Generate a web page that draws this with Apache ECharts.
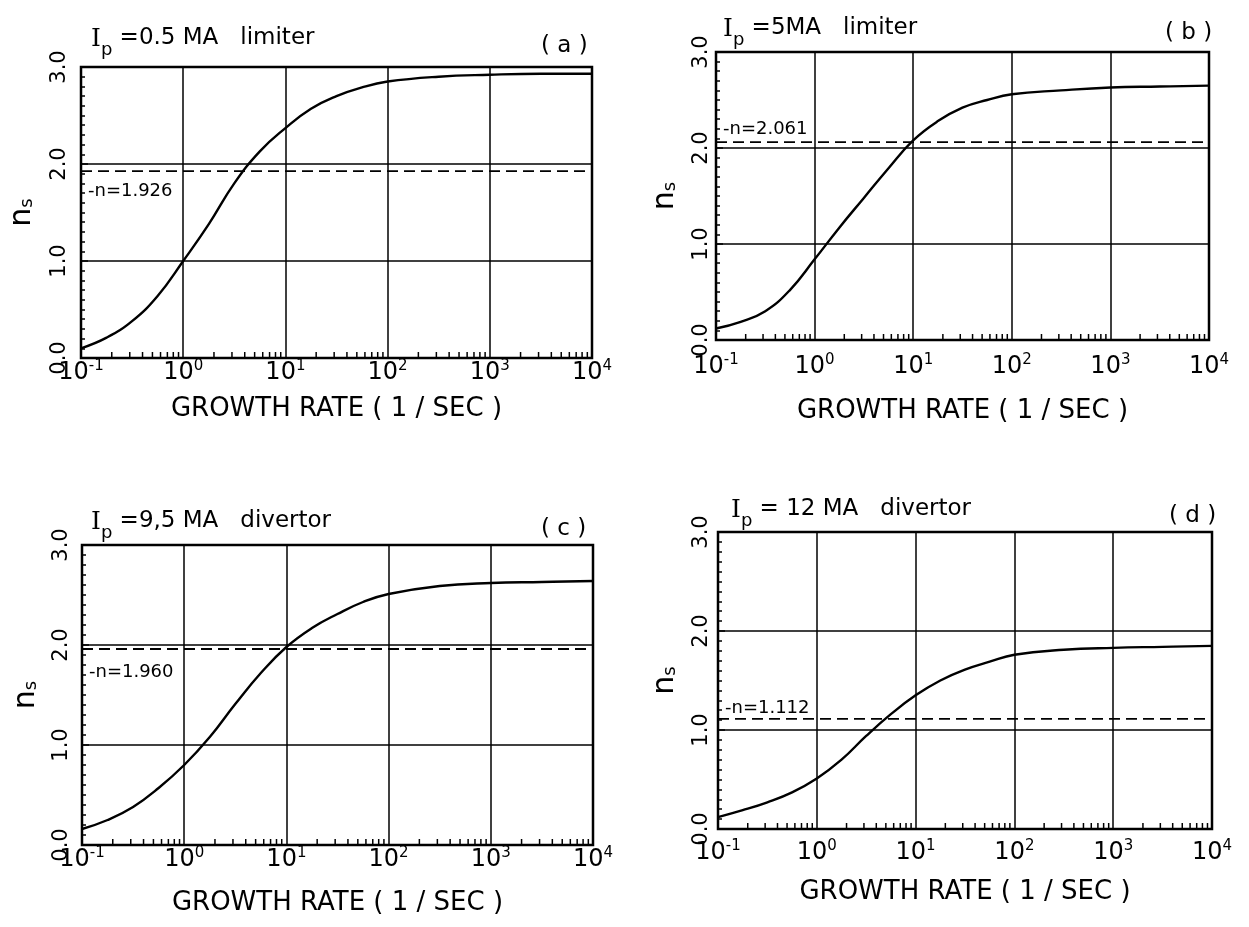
<!DOCTYPE html>
<html>
<head>
<meta charset="utf-8">
<script src="https://cdn.jsdelivr.net/npm/echarts@6/dist/echarts.min.js"></script>
<style>
  html, body { margin: 0; padding: 0; background: #fff; }
  #chart { width: 1249px; height: 927px; }
</style>
</head>
<body>
<div id="chart"></div>
<script>
// Growth rate samples (1/sec), quarter-decade steps, shared by all four panels
const growthRate = [0.1, 0.178, 0.316, 0.562, 1, 1.78, 3.16, 5.62, 10, 17.8, 31.6, 56.2, 100, 316, 1000, 3162, 10000];

// n_s versus growth rate for each case
const nsA = [0.10, 0.21, 0.38, 0.64, 1.00, 1.38, 1.80, 2.13, 2.37, 2.57, 2.70, 2.79, 2.85, 2.90, 2.92, 2.93, 2.93];
const nsB = [0.12, 0.19, 0.30, 0.52, 0.84, 1.17, 1.48, 1.79, 2.08, 2.28, 2.42, 2.50, 2.56, 2.60, 2.63, 2.64, 2.65];
const nsC = [0.16, 0.25, 0.38, 0.57, 0.80, 1.08, 1.41, 1.72, 1.98, 2.17, 2.31, 2.43, 2.51, 2.59, 2.62, 2.63, 2.64];
const nsD = [0.12, 0.19, 0.27, 0.37, 0.51, 0.70, 0.94, 1.16, 1.35, 1.50, 1.61, 1.69, 1.76, 1.81, 1.83, 1.84, 1.85];

// Decay index n of each equilibrium (dashed reference)
const nIndex = [1.926, 2.061, 1.960, 1.112];
const nLabels = ['-n=1.926', '-n=2.061', '-n=1.960', '-n=1.112'];

// Panel headings
const caseText = [' =0.5 MA   limiter', ' =5MA   limiter', ' =9,5 MA   divertor', ' = 12 MA   divertor'];
const panelTags = ['( a )', '( b )', '( c )', '( d )'];
const yTickValues = [0, 1, 2, 3];

// Plot frames and text placement for the 2x2 layout
const layout = [
  { left: 81,  top: 67,  width: 511, height: 291, head: [86, 22],  tag: [536, 30],  labelDy: 20,  xMargin: 1,  xNameGap: 38, yMargin: 11, yNameGap: 34 },
  { left: 716, top: 52,  width: 493, height: 288, head: [718, 12], tag: [1160, 17], labelDy: -13, xMargin: 13, xNameGap: 58, yMargin: 4,  yNameGap: 26 },
  { left: 82,  top: 545, width: 511, height: 300, head: [86, 505], tag: [536, 513], labelDy: 23,  xMargin: 1,  xNameGap: 45, yMargin: 10, yNameGap: 31 },
  { left: 718, top: 532, width: 494, height: 297, head: [726, 493], tag: [1164, 500], labelDy: -11, xMargin: 10, xNameGap: 50, yMargin: 6,  yNameGap: 28 }
];

const seriesValues = [nsA, nsB, nsC, nsD];
const FONT = 'DejaVu Sans';
const INK = '#000';

// Minor log ticks (2..9 within each decade)
const minorTicks = [];
for (let e = -1; e < 4; e++) {
  for (let m = 2; m <= 9; m++) minorTicks.push([m * Math.pow(10, e), 0]);
}

const option = {
  animation: false,
  backgroundColor: '#fff',
  title: [],
  grid: [],
  xAxis: [],
  yAxis: [],
  series: []
};

layout.forEach((L, i) => {
  option.grid.push({
    left: L.left, top: L.top, width: L.width, height: L.height,
    outerBoundsMode: 'none',
    containLabel: false,
    show: true, borderColor: INK, borderWidth: 2.5, backgroundColor: 'transparent'
  });

  option.title.push({
    left: L.head[0], top: L.head[1],
    text: '{i|I}{p|p}{t|' + caseText[i] + '}',
    textStyle: {
      fontWeight: 'normal',
      rich: {
        i: { fontFamily: 'DejaVu Serif', fontSize: 25, fontWeight: 'normal', lineHeight: 26, verticalAlign: 'top', color: INK },
        p: { fontFamily: FONT, fontSize: 18, fontWeight: 'normal', lineHeight: 46, verticalAlign: 'middle', color: INK },
        t: { fontFamily: FONT, fontSize: 23, fontWeight: 'normal', lineHeight: 26, verticalAlign: 'top', color: INK }
      }
    }
  });
  option.title.push({
    left: L.tag[0], top: L.tag[1],
    text: panelTags[i],
    textStyle: { fontFamily: FONT, fontSize: 23, fontWeight: 'normal', color: INK }
  });

  option.xAxis.push({
    gridIndex: i,
    type: 'log',
    logBase: 10,
    min: 0.1,
    max: 10000,
    axisLine: { show: false },
    axisTick: { show: false },
    splitLine: { show: true, lineStyle: { color: INK, width: 1.5 } },
    axisLabel: {
      margin: L.xMargin,
      color: INK,
      formatter: v => '{b|10}{s|' + Math.round(Math.log10(v)) + '}',
      rich: {
        b: { fontFamily: FONT, fontSize: 24, lineHeight: 26, verticalAlign: 'bottom', color: INK },
        s: { fontFamily: FONT, fontSize: 15, lineHeight: 13, verticalAlign: 'top', color: INK }
      }
    },
    name: 'GROWTH RATE ( 1 / SEC )',
    nameLocation: 'middle',
    nameGap: L.xNameGap,
    nameTextStyle: { fontFamily: FONT, fontSize: 26, color: INK }
  });

  option.yAxis.push({
    gridIndex: i,
    type: 'value',
    min: yTickValues[0],
    max: yTickValues[yTickValues.length - 1],
    interval: 1,
    axisLine: { show: false },
    axisTick: { show: true, inside: true, length: 7, lineStyle: { color: INK, width: 1.5 } },
    minorTick: { show: true, splitNumber: 10, length: 4, lineStyle: { color: INK, width: 1.5 } },
    splitLine: { show: true, lineStyle: { color: INK, width: 1.5 } },
    axisLabel: {
      rotate: 90,
      margin: L.yMargin,
      fontFamily: FONT,
      fontSize: 21,
      color: INK,
      formatter: v => v.toFixed(1)
    },
    name: '{n|n}{s|s}',
    nameLocation: 'middle',
    nameRotate: 90,
    nameGap: L.yNameGap,
    nameTextStyle: {
      rich: {
        n: { fontFamily: FONT, fontSize: 30, lineHeight: 26, verticalAlign: 'top', color: INK },
        s: { fontFamily: FONT, fontSize: 18, lineHeight: 40, verticalAlign: 'middle', color: INK }
      }
    }
  });

  // n_s curve
  option.series.push({
    type: 'line',
    xAxisIndex: i, yAxisIndex: i,
    data: growthRate.map((x, k) => [x, seriesValues[i][k]]),
    symbol: 'none',
    smooth: 0.45,
    lineStyle: { color: INK, width: 2.4 },
    z: 5
  });

  // decay-index reference
  option.series.push({
    type: 'line',
    xAxisIndex: i, yAxisIndex: i,
    data: [
      {
        value: [growthRate[0], nIndex[i]],
        label: {
          show: true, position: 'right', offset: [2, L.labelDy],
          formatter: nLabels[i], fontFamily: FONT, fontSize: 18, color: INK
        }
      },
      [growthRate[growthRate.length - 1], nIndex[i]]
    ],
    symbol: 'circle',
    symbolSize: 0.01,
    itemStyle: { color: INK },
    lineStyle: { color: INK, width: 1.8, type: [11, 6] },
    z: 4
  });

  // minor log ticks along the bottom edge
  option.series.push({
    type: 'custom',
    xAxisIndex: i, yAxisIndex: i,
    data: minorTicks,
    silent: true,
    renderItem: (params, api) => {
      const p = api.coord([api.value(0), 0]);
      return {
        type: 'line',
        shape: { x1: p[0], y1: p[1], x2: p[0], y2: p[1] - 6 },
        style: { stroke: INK, lineWidth: 1.5 }
      };
    },
    z: 3
  });
});

const chart = echarts.init(document.getElementById('chart'), null, { renderer: 'canvas' });
chart.setOption(option);
</script>
</body>
</html>
